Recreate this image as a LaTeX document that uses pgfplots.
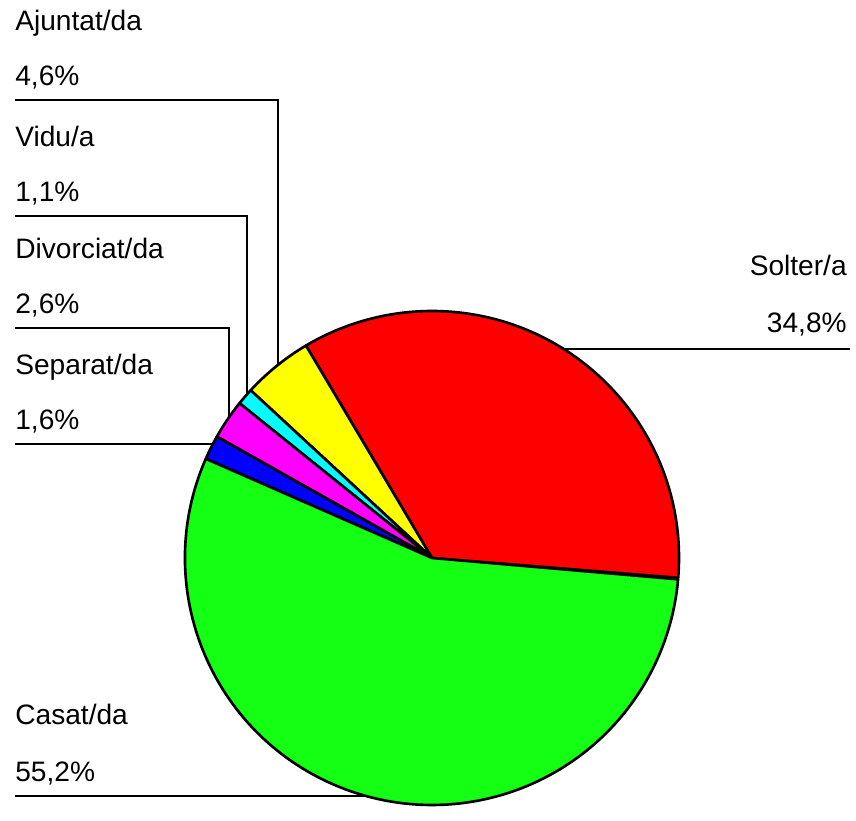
\documentclass[border=0pt]{standalone}
\usepackage{pgfplots}
\pgfplotsset{compat=1.18}
\usepackage{pgfplotstable}
\usepackage{fontspec}
\setmainfont{Liberation Sans}

\definecolor{pieRed}{RGB}{255,0,0}
\definecolor{pieYellow}{RGB}{255,255,0}
\definecolor{pieCyan}{RGB}{0,255,255}
\definecolor{pieMagenta}{RGB}{255,0,255}
\definecolor{pieBlue}{RGB}{0,0,255}
\definecolor{pieGreen}{RGB}{20,255,20}

% percentages, counter-clockwise from the Solter/a slice
\pgfplotstableread{
label     value color
Solter    34.8  pieRed
Ajuntat   4.6   pieYellow
Vidu      1.1   pieCyan
Divorciat 2.6   pieMagenta
Separat   1.6   pieBlue
Casat     55.2  pieGreen
}\piedata

\def\pieR{4.94cm}

\begin{document}
\begin{tikzpicture}
\begin{axis}[
    hide axis,
    x=1cm, y=1cm,
    xmin=-8.64, xmax=8.48,
    ymin=-4.98, ymax=11.16,
    clip=false,
  ]
  \path (axis cs:-8.64,-4.98) rectangle (axis cs:8.48,11.16);

  % leader lines
  \draw[line width=1pt] (axis cs:-8.34,9.16) -- (axis cs:-3.08,9.16) -- (axis cs:-3.08,3.86);
  \draw[line width=1pt] (axis cs:-8.34,6.84) -- (axis cs:-3.70,6.84) -- (axis cs:-3.70,3.27);
  \draw[line width=1pt] (axis cs:-8.34,4.60) -- (axis cs:-4.06,4.60) -- (axis cs:-4.06,2.81);
  \draw[line width=1pt] (axis cs:-8.34,2.28) -- (axis cs:-4.38,2.28);
  \draw[line width=1pt] (axis cs:-8.34,-4.76) -- (axis cs:-1.32,-4.76);
  \draw[line width=1pt] (axis cs:2.63,4.18) -- (axis cs:8.36,4.18);

  % slices
  \pgfplotstablegetrowsof{\piedata}
  \pgfmathtruncatemacro\lastrow{\pgfplotsretval-1}
  \def\angstart{-4.6}
  \pgfplotsforeachungrouped \i in {0,...,\lastrow}{
    \pgfplotstablegetelem{\i}{value}\of\piedata \let\val\pgfplotsretval
    \pgfplotstablegetelem{\i}{color}\of\piedata \let\col\pgfplotsretval
    \pgfmathsetmacro\angend{\angstart+3.6*\val}
    \edef\slice{\noexpand\filldraw[fill=\col, draw=black, line width=1.5pt, line join=round]
      (axis cs:0,0) -- ++(\angstart:\pieR)
      arc[start angle=\angstart, end angle=\angend, radius=\pieR] -- cycle;}
    \slice
    \let\angstart\angend
  }

  % labels
  \begin{scope}[every node/.style={inner sep=0pt, font=\fontsize{16}{19}\selectfont}]
    \node[anchor=base west] at (axis cs:-8.34,10.54) {Ajuntat/da};
    \node[anchor=base west] at (axis cs:-8.34,9.44) {4,6\%};
    \node[anchor=base west] at (axis cs:-8.34,8.22) {Vidu/a};
    \node[anchor=base west] at (axis cs:-8.34,7.12) {1,1\%};
    \node[anchor=base west] at (axis cs:-8.34,5.98) {Divorciat/da};
    \node[anchor=base west] at (axis cs:-8.34,4.88) {2,6\%};
    \node[anchor=base west] at (axis cs:-8.34,3.66) {Separat/da};
    \node[anchor=base west] at (axis cs:-8.34,2.56) {1,6\%};
    \node[anchor=base west] at (axis cs:-8.34,-3.34) {Casat/da};
    \node[anchor=base west] at (axis cs:-8.34,-4.48) {55,2\%};
    \node[anchor=base east] at (axis cs:8.30,5.64) {Solter/a};
    \node[anchor=base east] at (axis cs:8.30,4.50) {34,8\%};
  \end{scope}
\end{axis}
\end{tikzpicture}
\end{document}
